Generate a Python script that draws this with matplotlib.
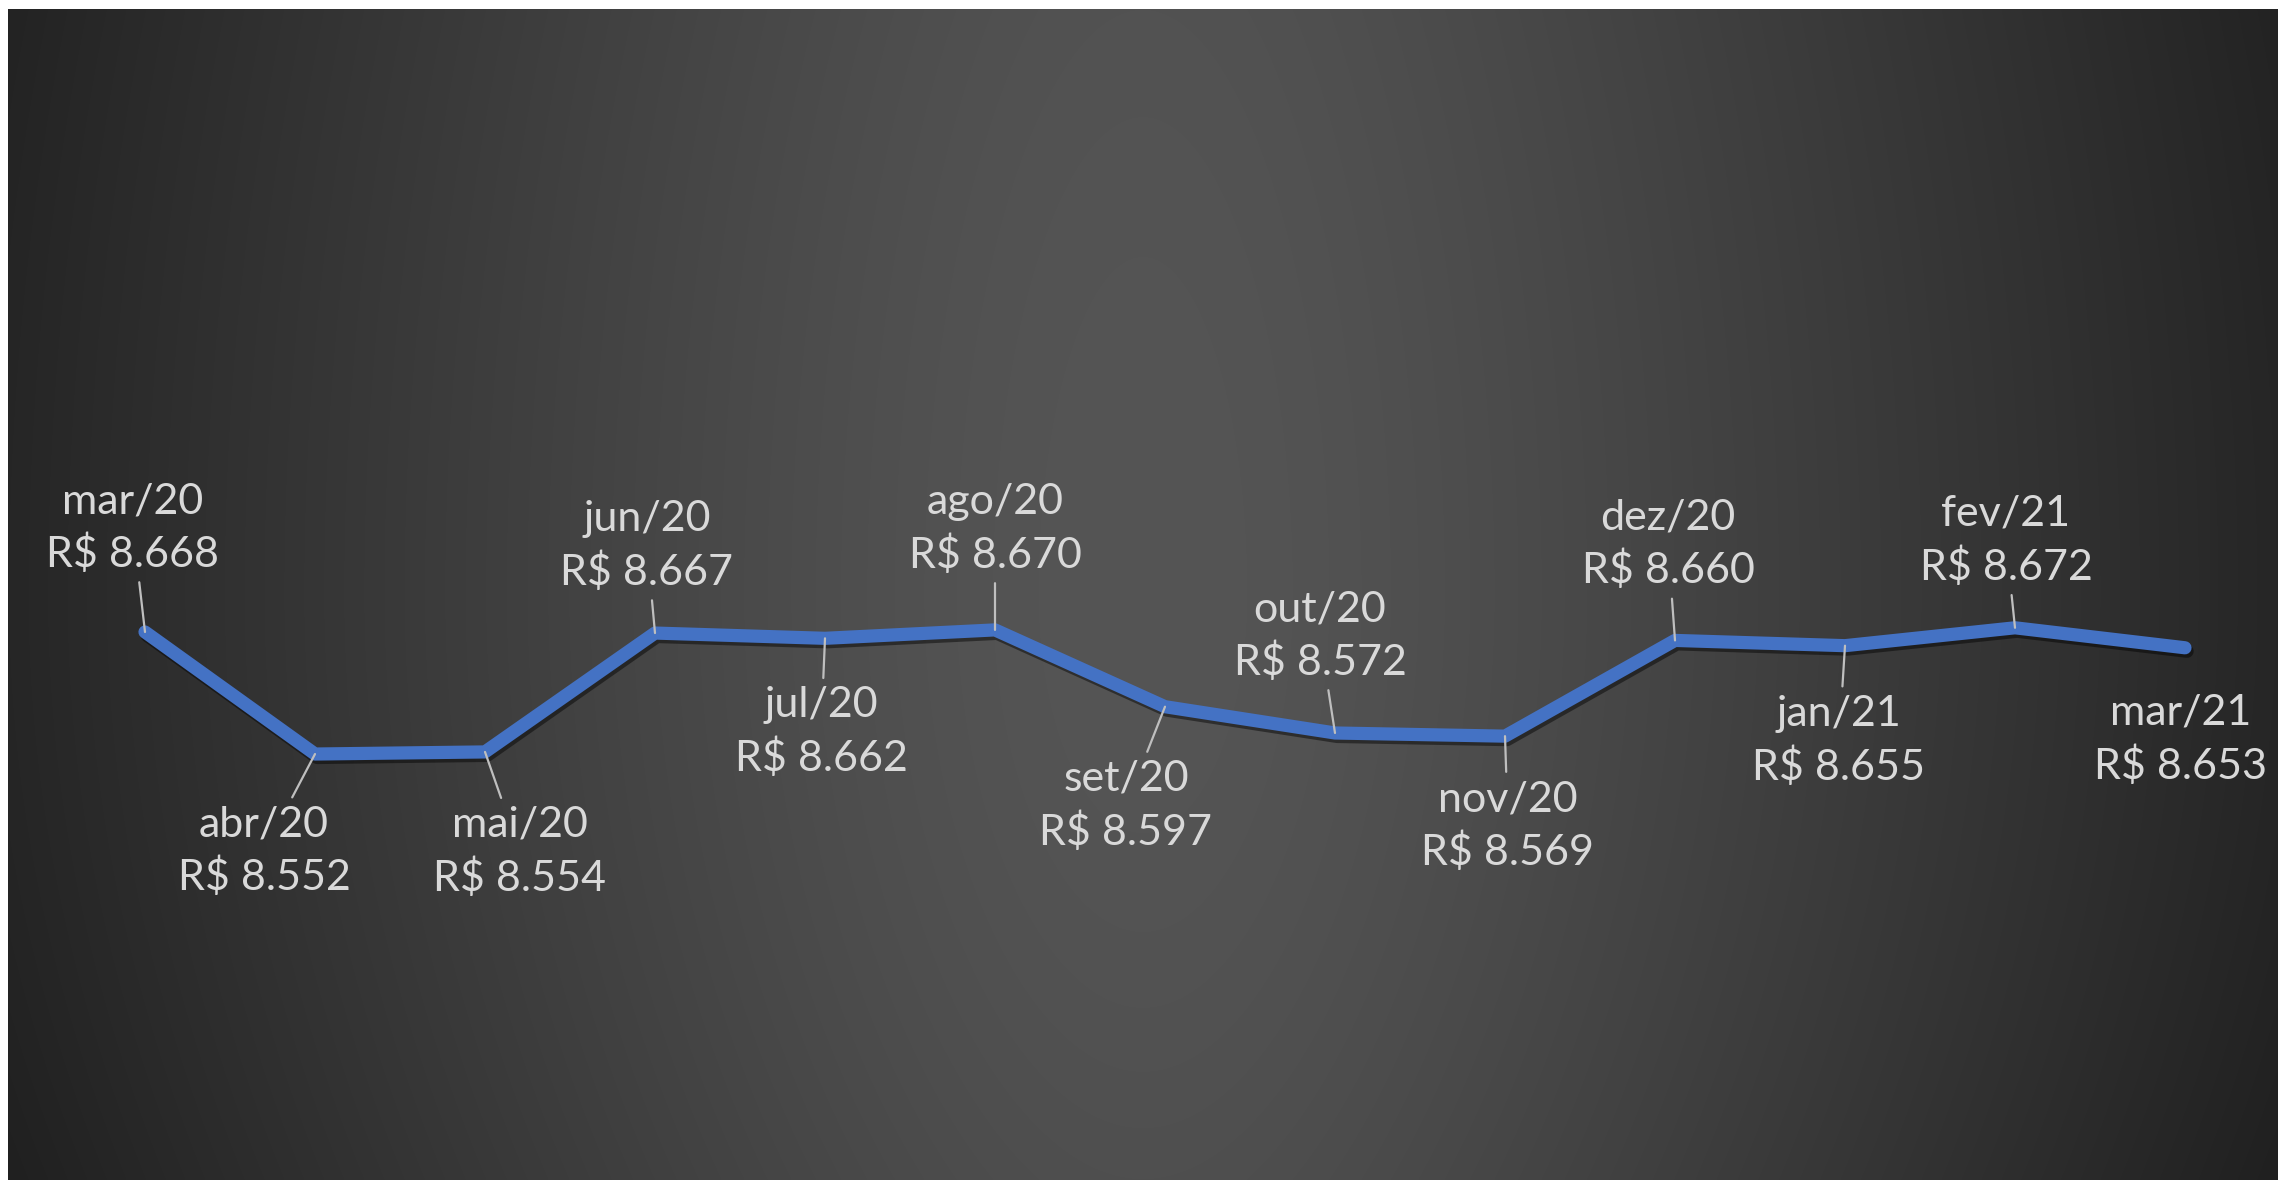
import numpy as np
import matplotlib
matplotlib.use("Agg")
import matplotlib.pyplot as plt
import matplotlib.patheffects as pe

# data
months = ["mar/20", "abr/20", "mai/20", "jun/20", "jul/20", "ago/20", "set/20",
          "out/20", "nov/20", "dez/20", "jan/21", "fev/21", "mar/21"]
values = [8.668, 8.552, 8.554, 8.667, 8.662, 8.670, 8.597,
          8.572, 8.569, 8.660, 8.655, 8.672, 8.653]
value_labels = ["R$ 8.668", "R$ 8.552", "R$ 8.554", "R$ 8.667", "R$ 8.662", "R$ 8.670",
                "R$ 8.597", "R$ 8.572", "R$ 8.569", "R$ 8.660", "R$ 8.655", "R$ 8.672",
                "R$ 8.653"]

# label placement (pixel offsets from each point), layout only
label_offsets = [(-12, -104), (-51, 97), (35, 100), (-8, -87), (-4, 94), (0, -101),
                 (-39, 99), (-15, -97), (3, 90), (-7, -96), (-6, 95), (-9, -87), (-4, 92)]
show_leader = [True] * 12 + [False]

W, H = 2278, 1180
fig = plt.figure(figsize=(W / 100, H / 100), dpi=100, facecolor="white")

# dark background, lighter towards the middle
bg_ax = fig.add_axes([8 / W, 0, 1 - 8 / W, 1 - 9 / H])
bg_ax.set_axis_off()
xx = np.linspace(-1, 1, 1000)
yy = np.linspace(-1, 1, 600)
gx, gy = np.meshgrid(xx, yy)
eps = 0.06
r = (np.sqrt(gx ** 2 + eps) - np.sqrt(eps)) / (np.sqrt(1 + eps) - np.sqrt(eps))
shade = (85 - 47 * r - 6 * np.clip(gy, 0, None) ** 2 - 3 * np.clip(-gy, 0, None) ** 2) / 255
bg_ax.imshow(np.dstack([shade] * 3), aspect="auto", interpolation="bilinear",
             extent=[0, 1, 0, 1], origin="upper")

# data axes spanning the whole figure
ax = fig.add_axes([0, 0, 1, 1])
ax.patch.set_alpha(0)
ax.set_axis_off()
x = np.arange(len(values))
ax.set_xlim(-145 / 170, (W - 145) / 170)
ax.set_ylim(8.668 - (H - 632) / 1052, 8.668 + 632 / 1052)

ax.plot(x, values, color="#4472C4", linewidth=9.5, solid_capstyle="round",
        solid_joinstyle="round",
        path_effects=[pe.SimpleLineShadow(offset=(1.5, -2.5), shadow_color="black", alpha=0.45),
                      pe.Normal()])

for i, (m, lab) in enumerate(zip(months, value_labels)):
    dx, dy = label_offsets[i]
    arrow = dict(arrowstyle="-", color="#BFBFBF", lw=1.6, shrinkA=4, shrinkB=0) if show_leader[i] else None
    ax.annotate(f"{m}\n{lab}", xy=(x[i], values[i]), xytext=(dx, -dy),
                textcoords="offset pixels", ha="center", va="center",
                multialignment="center", fontsize=31, family="Lato",
                color="#D9D9D9", linespacing=1.4, arrowprops=arrow)

fig.savefig("out.png", dpi=100, facecolor="white")
